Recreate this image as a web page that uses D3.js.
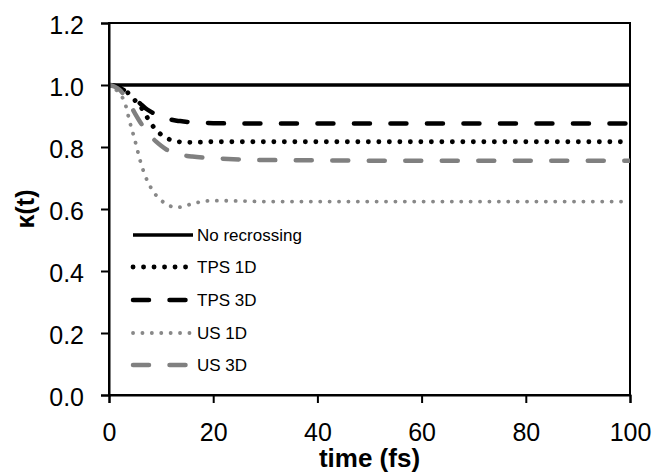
<!DOCTYPE html>
<html>
<head>
<meta charset="utf-8">
<script src="https://cdn.jsdelivr.net/npm/d3@7"></script>
<style>
  html, body { margin: 0; padding: 0; background: #fff; }
  svg { display: block; font-family: "Liberation Sans", Arial, sans-serif; }
</style>
</head>
<body>
<svg id="chart" width="655" height="475"></svg>
<script>
// ---- data ----
const time = [0,1,2,3,4,5,6,7,8,9,10,11,12,13,14,15,16,18,20,25,30,40,50,60,70,80,90,100];
const noRecrossing = time.map(() => 1.0);
const tps1D = [1.0,0.998,0.993,0.985,0.968,0.950,0.932,0.905,0.877,0.856,0.840,0.829,0.822,0.818,0.816,0.815,0.815,0.816,0.817,0.817,0.817,0.817,0.817,0.817,0.817,0.817,0.817,0.817];
const tps3D = [1.0,0.998,0.992,0.982,0.970,0.955,0.940,0.925,0.914,0.905,0.897,0.892,0.888,0.885,0.883,0.881,0.880,0.878,0.877,0.876,0.876,0.876,0.876,0.876,0.876,0.876,0.876,0.876];
const us1D = [1.0,0.990,0.972,0.945,0.880,0.820,0.755,0.705,0.670,0.645,0.628,0.616,0.608,0.605,0.607,0.612,0.617,0.624,0.627,0.626,0.624,0.624,0.624,0.624,0.624,0.624,0.624,0.624];
const us3D = [1.0,0.995,0.985,0.965,0.938,0.908,0.880,0.855,0.835,0.818,0.804,0.792,0.784,0.778,0.774,0.771,0.769,0.766,0.764,0.760,0.758,0.757,0.756,0.756,0.756,0.756,0.756,0.756];
const seriesNames = ["No recrossing","TPS 1D","TPS 3D","US 1D","US 3D"];
const xTicks = [0,20,40,60,80,100];
const yTicks = [0,0.2,0.4,0.6,0.8,1.0,1.2];

// ---- styles per series ----
const styles = [
  {color:"#000000", width:3.5, dash:null, cap:"butt"},
  {color:"#000000", width:4.8, dash:"0.1 10.4", cap:"round"},
  {color:"#000000", width:4.5, dash:"16 20.5", cap:"round"},
  {color:"#888888", width:3.8, dash:"0.1 9.3", cap:"round"},
  {color:"#808080", width:4.5, dash:"16 20.5", cap:"round"}
];
const values = [noRecrossing, tps1D, tps3D, us1D, us3D];

const svg = d3.select("#chart");
const x = d3.scaleLinear().domain([0,100]).range([109,630]);
const y = d3.scaleLinear().domain([0,1.2]).range([395,23]);

// plot border (top & right)
svg.append("rect")
  .attr("x", x(0)).attr("y", y(1.2))
  .attr("width", x(100)-x(0)).attr("height", y(0)-y(1.2))
  .attr("fill","none").attr("stroke","#000").attr("stroke-width",2);

// lines
svg.append("clipPath").attr("id","clip").append("rect")
  .attr("x", x(0)).attr("y", y(1.2)-5).attr("width", x(100)-x(0)).attr("height", y(0)-y(1.2)+10);

const line = d3.line().x(d=>x(d[0])).y(d=>y(d[1])).curve(d3.curveMonotoneX);
const g = svg.append("g").attr("clip-path","url(#clip)");
values.forEach((vals,i)=>{
  const s = styles[i];
  g.append("path")
    .datum(time.map((t,j)=>[t, vals[j]]))
    .attr("d", line)
    .attr("fill","none")
    .attr("stroke", s.color)
    .attr("stroke-width", s.width)
    .attr("stroke-linecap", s.cap)
    .attr("stroke-dasharray", s.dash);
});

// axes
const yAxis = d3.axisLeft(y).tickValues(yTicks).tickFormat(d3.format(".1f")).tickSize(8).tickPadding(17);
const xAxis = d3.axisBottom(x).tickValues(xTicks).tickFormat(d3.format("d")).tickSize(8).tickPadding(20);

const ya = svg.append("g").attr("transform",`translate(${x(0)},0)`).call(yAxis);
const xa = svg.append("g").attr("transform",`translate(0,${y(0)})`).call(xAxis);
[ya, xa].forEach(a=>{
  a.select(".domain").attr("stroke","#000").attr("stroke-width",2);
  a.selectAll(".tick line").attr("stroke","#000").attr("stroke-width",2);
  a.selectAll(".tick text").attr("fill","#000")
    .style("font-family","'Liberation Sans', Arial, sans-serif").style("font-size","25px");
});
ya.selectAll(".tick text").attr("dy","0.40em");

// axis titles
svg.append("text")
  .attr("x", (x(0)+x(100))/2).attr("y", 467)
  .attr("text-anchor","middle")
  .style("font-size","26px").style("font-weight","bold")
  .text("time (fs)");
svg.append("text")
  .attr("transform", `translate(34,${(y(0)+y(1.2))/2}) rotate(-90)`)
  .attr("text-anchor","middle")
  .style("font-size","25px").style("font-weight","bold")
  .text("κ(t)");

// legend
const legendY = [235, 267, 300, 333, 365];
const lg = svg.append("g");
seriesNames.forEach((name,i)=>{
  const s = styles[i];
  lg.append("line")
    .attr("x1",133).attr("x2",193)
    .attr("y1",legendY[i]).attr("y2",legendY[i])
    .attr("stroke", s.color).attr("stroke-width", s.width)
    .attr("stroke-linecap", s.cap).attr("stroke-dasharray", s.dash);
  lg.append("text")
    .attr("x",197).attr("y",legendY[i]).attr("dy","0.36em")
    .style("font-size","17px").attr("fill","#000")
    .text(name);
});
</script>
</body>
</html>
